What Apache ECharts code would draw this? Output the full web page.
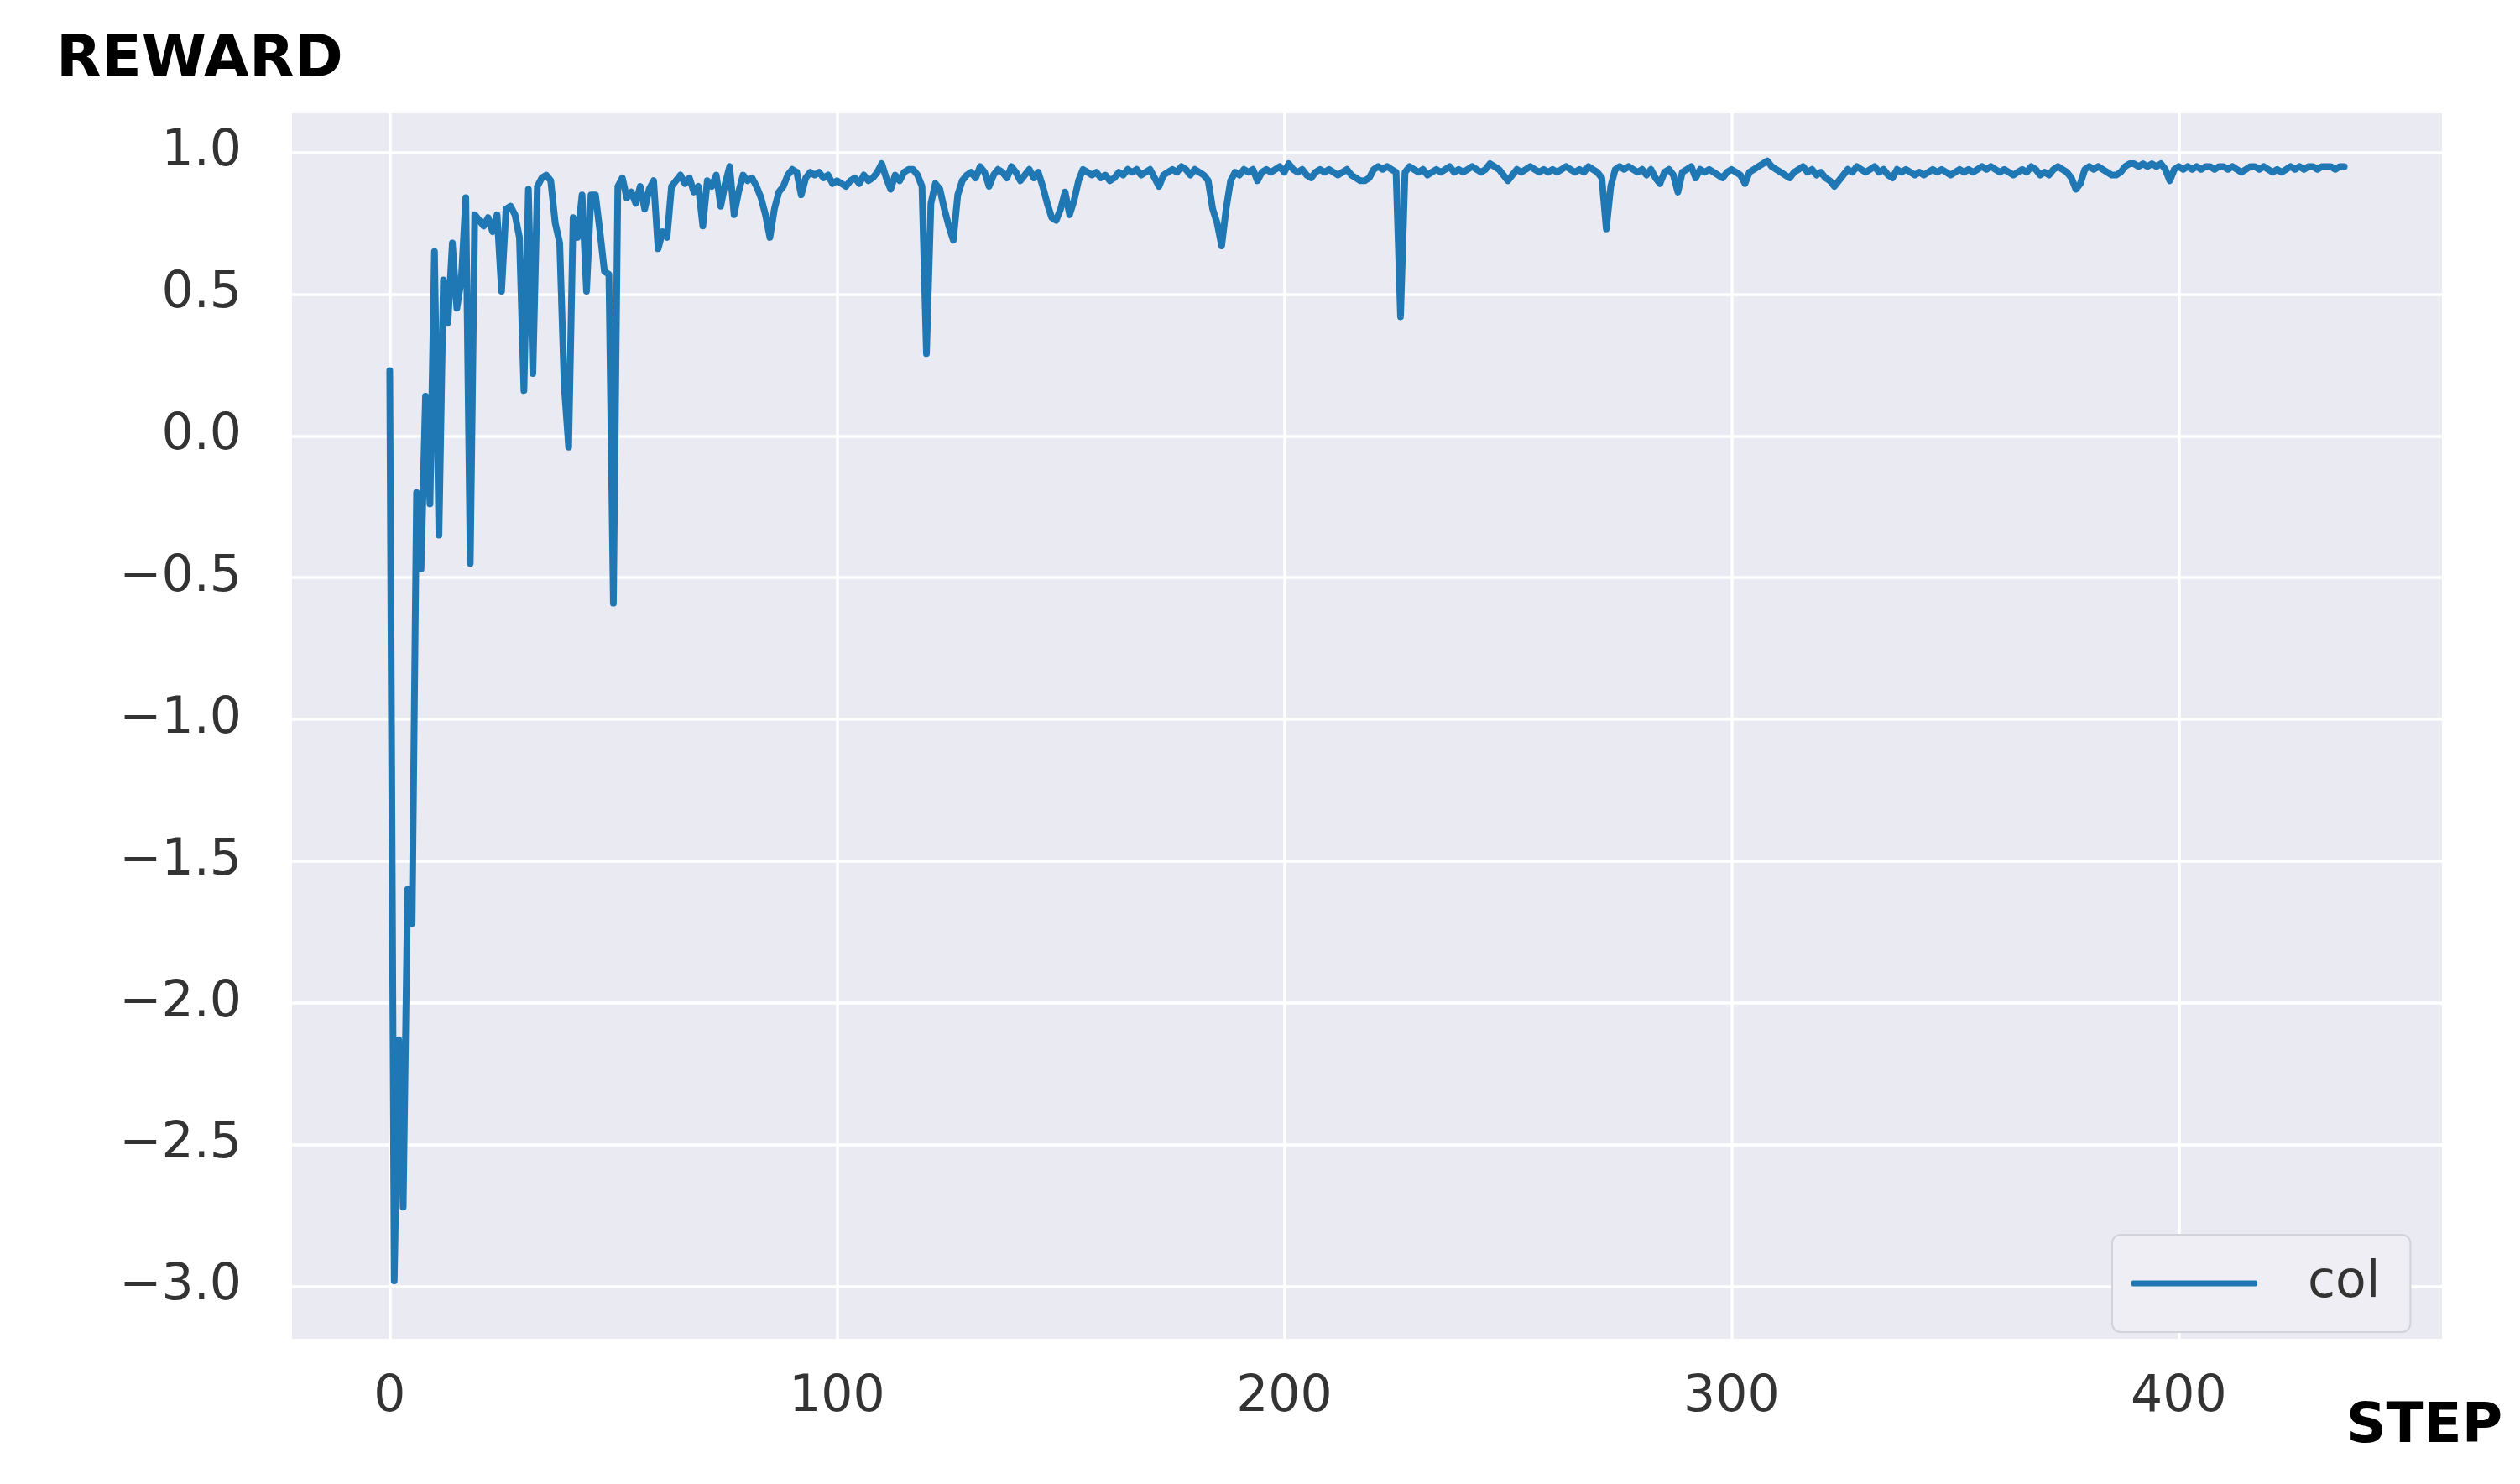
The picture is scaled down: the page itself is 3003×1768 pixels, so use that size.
<!DOCTYPE html>
<html>
<head>
<meta charset="utf-8">
<script src="https://cdn.jsdelivr.net/npm/echarts@6/dist/echarts.min.js"></script>
<style>html,body{margin:0;padding:0;background:#ffffff}#c{width:3003px;height:1768px}</style>
</head>
<body>
<div id="c"></div>
<script>
// REWARD per STEP (step = index 0..437)
const reward = [
  0.23, -2.98, -2.13, -2.72, -1.60, -1.72, -0.20, -0.47, 0.14, -0.24,
  0.65, -0.35, 0.55, 0.40, 0.68, 0.45, 0.55, 0.84, -0.45, 0.78,
  0.76, 0.74, 0.77, 0.72, 0.78, 0.51, 0.80, 0.81, 0.78, 0.70,
  0.16, 0.87, 0.22, 0.88, 0.91, 0.92, 0.90, 0.75, 0.68, 0.18,
  -0.04, 0.77, 0.70, 0.85, 0.51, 0.85, 0.85, 0.72, 0.58, 0.57,
  -0.59, 0.88, 0.91, 0.84, 0.86, 0.82, 0.88, 0.80, 0.87, 0.90,
  0.66, 0.72, 0.70, 0.88, 0.90, 0.92, 0.89, 0.91, 0.86, 0.88,
  0.74, 0.90, 0.88, 0.92, 0.81, 0.89, 0.95, 0.78, 0.86, 0.92,
  0.90, 0.91, 0.88, 0.84, 0.78, 0.70, 0.80, 0.86, 0.88, 0.92,
  0.94, 0.93, 0.85, 0.91, 0.93, 0.92, 0.93, 0.91, 0.92, 0.89,
  0.90, 0.89, 0.88, 0.90, 0.91, 0.89, 0.92, 0.90, 0.91, 0.93,
  0.96, 0.91, 0.87, 0.92, 0.90, 0.93, 0.94, 0.94, 0.92, 0.88,
  0.29, 0.82, 0.89, 0.87, 0.80, 0.74, 0.69, 0.85, 0.90, 0.92,
  0.93, 0.91, 0.95, 0.93, 0.88, 0.92, 0.94, 0.93, 0.91, 0.95,
  0.93, 0.90, 0.92, 0.94, 0.91, 0.93, 0.88, 0.82, 0.77, 0.76,
  0.80, 0.86, 0.78, 0.83, 0.90, 0.94, 0.93, 0.92, 0.93, 0.91,
  0.92, 0.90, 0.91, 0.93, 0.92, 0.94, 0.93, 0.94, 0.92, 0.93,
  0.94, 0.91, 0.88, 0.92, 0.93, 0.94, 0.93, 0.95, 0.94, 0.92,
  0.94, 0.93, 0.92, 0.90, 0.80, 0.75, 0.67, 0.80, 0.90, 0.93,
  0.92, 0.94, 0.93, 0.94, 0.90, 0.93, 0.94, 0.93, 0.94, 0.95,
  0.93, 0.96, 0.94, 0.93, 0.94, 0.92, 0.91, 0.93, 0.94, 0.93,
  0.94, 0.93, 0.92, 0.93, 0.94, 0.92, 0.91, 0.90, 0.90, 0.91,
  0.94, 0.95, 0.94, 0.95, 0.94, 0.93, 0.42, 0.93, 0.95, 0.94,
  0.93, 0.94, 0.92, 0.93, 0.94, 0.93, 0.94, 0.95, 0.93, 0.94,
  0.93, 0.94, 0.95, 0.94, 0.93, 0.94, 0.96, 0.95, 0.94, 0.92,
  0.90, 0.92, 0.94, 0.93, 0.94, 0.95, 0.94, 0.93, 0.94, 0.93,
  0.94, 0.93, 0.94, 0.95, 0.94, 0.93, 0.94, 0.93, 0.95, 0.94,
  0.93, 0.91, 0.73, 0.88, 0.94, 0.95, 0.94, 0.95, 0.94, 0.93,
  0.94, 0.92, 0.94, 0.91, 0.89, 0.93, 0.94, 0.92, 0.86, 0.93,
  0.94, 0.95, 0.91, 0.94, 0.93, 0.94, 0.93, 0.92, 0.91, 0.93,
  0.94, 0.93, 0.92, 0.89, 0.93, 0.94, 0.95, 0.96, 0.97, 0.95,
  0.94, 0.93, 0.92, 0.91, 0.93, 0.94, 0.95, 0.93, 0.94, 0.92,
  0.93, 0.91, 0.90, 0.88, 0.90, 0.92, 0.94, 0.93, 0.95, 0.94,
  0.93, 0.94, 0.95, 0.93, 0.94, 0.92, 0.91, 0.94, 0.93, 0.94,
  0.93, 0.92, 0.93, 0.92, 0.93, 0.94, 0.93, 0.94, 0.93, 0.92,
  0.93, 0.94, 0.93, 0.94, 0.93, 0.94, 0.95, 0.94, 0.95, 0.94,
  0.93, 0.94, 0.93, 0.92, 0.93, 0.94, 0.93, 0.95, 0.94, 0.92,
  0.93, 0.92, 0.94, 0.95, 0.94, 0.93, 0.91, 0.87, 0.89, 0.94,
  0.95, 0.94, 0.95, 0.94, 0.93, 0.92, 0.92, 0.93, 0.95, 0.96,
  0.96, 0.95, 0.96, 0.95, 0.96, 0.95, 0.96, 0.94, 0.90, 0.94,
  0.95, 0.94, 0.95, 0.94, 0.95, 0.94, 0.95, 0.95, 0.94, 0.95,
  0.95, 0.94, 0.95, 0.94, 0.93, 0.94, 0.95, 0.95, 0.94, 0.95,
  0.94, 0.93, 0.94, 0.93, 0.94, 0.95, 0.94, 0.95, 0.94, 0.95,
  0.95, 0.94, 0.95, 0.95, 0.95, 0.94, 0.95, 0.95
];
const xTicks = [0, 100, 200, 300, 400];
const yTicks = [-3.0, -2.5, -2.0, -1.5, -1.0, -0.5, 0.0, 0.5, 1.0];
const seriesName = 'col';
const yTitle = 'REWARD';
const xTitle = 'STEP';

const FONT = 'DejaVu Sans';
const LINE = '#1f77b4';
const chart = echarts.init(document.getElementById('c'), null, {renderer: 'canvas'});
const fmt = v => (v < 0 ? '\u2212' : '') + Math.abs(v).toFixed(1);

chart.setOption({
  animation: false,
  backgroundColor: '#ffffff',
  grid: {left: 348, right: 93, top: 135, bottom: 173, show: true,
         backgroundColor: '#EAEAF2', borderWidth: 0},
  xAxis: {
    type: 'value', min: -21.85, max: 458.85,
    axisLine: {show: false},
    axisTick: {show: false, customValues: xTicks},
    axisLabel: {customValues: xTicks, fontSize: 60, fontFamily: FONT, color: '#333333', margin: 40},
    splitLine: {show: true, lineStyle: {color: '#ffffff', width: 3.5}}
  },
  yAxis: {
    type: 'value', min: -3.1844, max: 1.1377,
    axisLine: {show: false},
    axisTick: {show: false, customValues: yTicks},
    axisLabel: {customValues: yTicks, fontSize: 60, fontFamily: FONT, color: '#333333', margin: 60,
                formatter: fmt},
    splitLine: {show: true, lineStyle: {color: '#ffffff', width: 3.5}}
  },
  legend: {
    left: 2517, top: 1471, orient: 'horizontal',
    itemWidth: 150, itemHeight: 7,
    padding: [28, 36, 28, 23],
    backgroundColor: '#EEEEF4', borderColor: '#D2D2D8', borderWidth: 2, borderRadius: 10,
    textStyle: {fontSize: 60, fontFamily: FONT, color: '#333333', padding: [0, 0, 0, 55], lineHeight: 40},
    data: [{name: seriesName, icon: 'roundRect', itemStyle: {color: LINE}}]
  },
  series: [{
    name: seriesName, type: 'line',
    data: reward.map((v, i) => [i, v]),
    symbol: 'none', showSymbol: false,
    lineStyle: {color: LINE, width: 8, join: 'round', cap: 'round'},
    itemStyle: {color: LINE},
    z: 3
  }],
  graphic: [
    {type: 'text', left: 67, top: 38,
     style: {text: yTitle, font: 'bold 70px "DejaVu Sans"', fill: '#000000'}},
    {type: 'text', left: 2796, top: 1668,
     style: {text: xTitle, font: 'bold 66px "DejaVu Sans"', fill: '#000000'}}
  ]
});
</script>
</body>
</html>
